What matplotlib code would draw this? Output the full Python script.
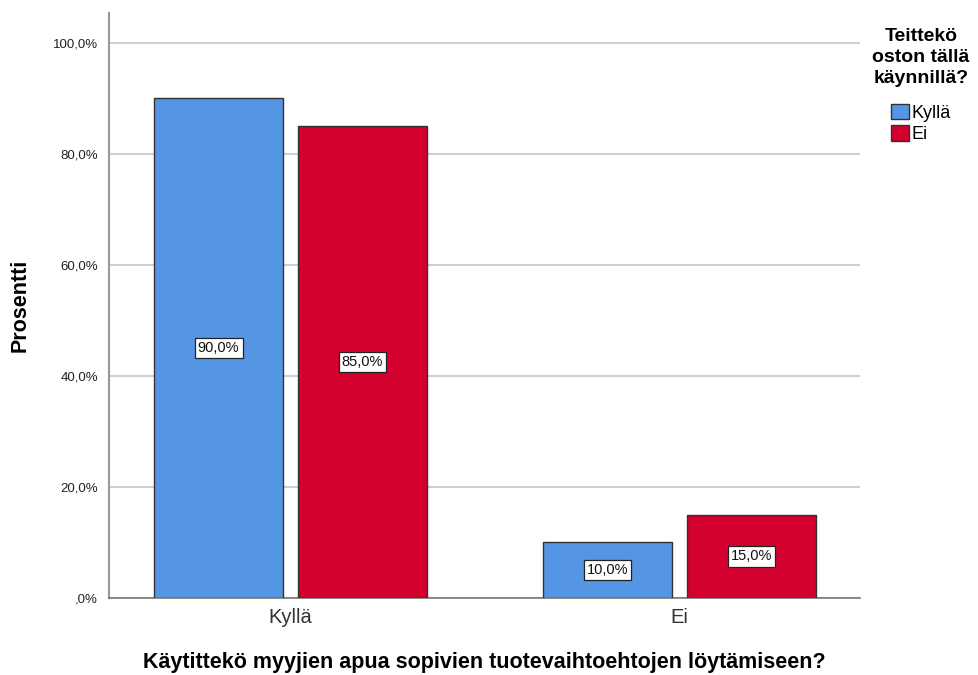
import matplotlib.pyplot as plt
from matplotlib.patches import Patch
import numpy as np

plt.rcParams['font.family'] = ['Liberation Sans', 'DejaVu Sans']

categories = ['Kyllä', 'Ei']
series_names = ['Kyllä', 'Ei']
values_kylla = [90.0, 10.0]
values_ei = [85.0, 15.0]
y_ticks = [0, 20, 40, 60, 80, 100]
y_tick_labels = [',0%', '20,0%', '40,0%', '60,0%', '80,0%', '100,0%']

colors = ['#5596E4', '#D3002E']
edge = '#333333'

fig = plt.figure(figsize=(9.79, 6.75), dpi=100)
ax = fig.add_axes([109 / 979, 1 - 598 / 675, (860 - 109) / 979, (598 - 13) / 675])

x = np.arange(len(categories))
width = 0.3316
offset = 0.185

for vals, col, sgn in [(values_kylla, colors[0], -1), (values_ei, colors[1], 1)]:
    bars = ax.bar(x + sgn * offset, vals, width, color=col, edgecolor=edge,
                  linewidth=1.0, zorder=3)
    for b, v in zip(bars, vals):
        ax.text(b.get_x() + b.get_width() / 2, v / 2,
                f'{v:.1f}%'.replace('.', ','), ha='center', va='center',
                fontsize=10.5, color='#111111', zorder=4,
                bbox=dict(boxstyle='square,pad=0.22', facecolor='white',
                          edgecolor='#222222', linewidth=0.9))

ax.set_xlim(-0.4666, 1.464)
ax.set_ylim(0, 105.4)
ax.set_yticks(y_ticks)
ax.set_yticklabels(y_tick_labels, fontsize=9.5, color='#222222')
ax.set_xticks(x)
ax.set_xticklabels(categories, fontsize=14.5, color='#333333')
ax.tick_params(axis='both', length=0, pad=8)
ax.tick_params(axis='x', pad=7)

ax.yaxis.grid(True, color='#d0d0d0', linewidth=1.5, zorder=0)
ax.set_axisbelow(True)
for s in ['top', 'right']:
    ax.spines[s].set_visible(False)
ax.spines['left'].set_color('#999999')
ax.spines['left'].set_linewidth(1.5)
ax.spines['bottom'].set_color('#777777')
ax.spines['bottom'].set_linewidth(1.2)

ax.set_ylabel('Prosentti', fontsize=15.5, fontweight='bold', labelpad=16)
ax.set_xlabel('Käytittekö myyjien apua sopivien tuotevaihtoehtojen löytämiseen?',
              fontsize=15.5, fontweight='bold', labelpad=18)

handles = [Patch(facecolor=c, edgecolor=edge, linewidth=1.0) for c in colors]
leg = fig.legend(handles, series_names, loc='upper center',
                 bbox_to_anchor=(921 / 979, 1 - 15 / 675),
                 title='Teittekö\noston tällä\nkäynnillä?',
                 title_fontproperties={'weight': 'bold', 'size': 14},
                 fontsize=13, frameon=False, handlelength=0.95,
                 handleheight=0.95, handletextpad=0.15, labelspacing=0.2,
                 borderpad=0.2)
leg.get_title().set_linespacing(1.32)
leg.get_title().set_multialignment('center')
leg._legend_box.align = 'center'
leg._legend_box.sep = 12

fig.savefig('out.png', dpi=100, facecolor='white')
